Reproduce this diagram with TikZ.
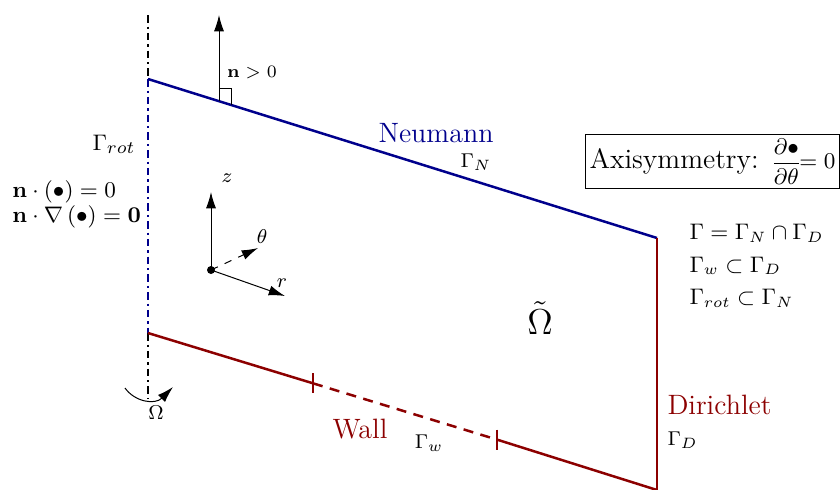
\documentclass[tikz,border=0pt]{standalone}
\usepackage{amsmath,amssymb}
\usetikzlibrary{arrows.meta,calc}
\definecolor{nblue}{RGB}{0,0,140}
\definecolor{dred}{RGB}{140,0,0}
\tikzset{
  bnd/.style={line width=1pt},
  axisline/.style={line width=0.9pt,dash pattern=on 3pt off 1.6pt on 0.9pt off 1.6pt},
  arr/.style={line width=0.4pt,-{Latex[length=6.5pt,width=4pt]}},
  tickm/.style={line width=0.9pt,dred},
  lbl/.style={inner sep=0pt,anchor=center},
  big/.style={font=\fontsize{11.2}{13}\selectfont},
  gam/.style={font=\fontsize{8.3}{10}\selectfont},
  cond/.style={font=\fontsize{9.3}{11}\selectfont}
}
\begin{document}
\begin{tikzpicture}[x=0.4pt,y=-0.4pt]
\useasboundingbox (0,0) rectangle (840,489);
% corners
\coordinate (A) at (148,79);
\coordinate (B) at (657,238);
\coordinate (C) at (657,490);
\coordinate (D) at (148,333);
\coordinate (W1) at (313,383.3);
\coordinate (W2) at (497,439.6);
\coordinate (T) at (148,15);
\coordinate (Bt) at (148,398);
% axis
\draw[axisline] (T) -- (A);
\draw[axisline,nblue] (A) -- (D);
\draw[axisline] (D) -- (Bt);
% boundaries
\draw[bnd,nblue] (A) -- (B);
\draw[bnd,dred] (B) -- (C);
\draw[bnd,dred] (D) -- (W1);
\draw[bnd,dred,dash pattern=on 4pt off 3pt] (W1) -- (W2);
\draw[bnd,dred] (W2) -- (C);
\draw[tickm] ($(W1)+(0,-10)$) -- ($(W1)+(0,10)$);
\draw[tickm] ($(W2)+(0,-10)$) -- ($(W2)+(0,10)$);
% normal
\coordinate (N0) at (219,101.1);
\coordinate (N1) at (219,15);
\draw[arr] (N0) -- (N1);
\draw[line width=0.4pt] (219,88) -- (231,88) -- (231,104.8);
\node[lbl,font=\fontsize{7.5}{9}\selectfont] (nlab) at (252,73) {$\mathbf{n}>0$};
% left texts
\node[lbl,cond] (grot) at (114,144) {$\Gamma_{rot}$};
\node[lbl,cond,anchor=west] (c1) at (12,192) {$\mathbf{n}\cdot(\bullet)=0$};
\node[lbl,cond,anchor=west] (c2) at (12,217) {$\mathbf{n}\cdot\nabla\left(\bullet\right)=\mathbf{0}$};
% local axes
\coordinate (O) at (211,270);
\fill (O) circle (1.6pt);
\coordinate (Z) at (211,192);
\coordinate (TH) at (258,248);
\coordinate (R) at (285,296);
\draw[arr] (O) -- (Z);
\draw[arr,dashed] (O) -- (TH);
\draw[arr] (O) -- (R);
\node[lbl] (zl) at (227,178) {\footnotesize $z$};
\node[lbl] (thl) at (262,237) {\footnotesize $\theta$};
\node[lbl] (rl) at (282,283) {\footnotesize $r$};
% rotation
\coordinate (r0) at (125,388);
\coordinate (r1) at (173,387);
\draw[arr] (r0) .. controls (135,402) and (155,405) .. (r1);
\node[lbl] (om) at (156,413) {\footnotesize $\Omega$};
% labels
\node[lbl,big,nblue] (neu) at (436,133) {Neumann};
\node[lbl,gam] (gn) at (476,162) {$\Gamma_N$};
\node[draw,line width=0.4pt,anchor=west,inner sep=1.6pt,font=\fontsize{11.2}{13}\selectfont] (axi) at (585,161.5) {Axisymmetry: {\fontsize{9.4}{11}\selectfont$\dfrac{\partial\bullet}{\partial\theta}\mskip-7mu=0$}\hspace{3pt}};
\node[lbl,anchor=west,align=left] (rel) at (689,266) {\small $\Gamma=\Gamma_N\cap\Gamma_D$\\[1pt] \small $\Gamma_w\subset\Gamma_D$\\[1pt] \small $\Gamma_{rot}\subset\Gamma_N$};
\node[lbl] (omt) at (540,318) {\Large $\tilde{\Omega}$};
\node[lbl,big,anchor=west,dred] (dir) at (667,405) {Dirichlet};
\node[lbl,gam,anchor=west] (gd) at (667,440) {$\Gamma_D$};
\node[lbl,big,dred] (wall) at (360,429) {Wall};
\node[lbl,gam] (gw) at (429,443) {$\Gamma_w$};
\end{tikzpicture}
\end{document}
